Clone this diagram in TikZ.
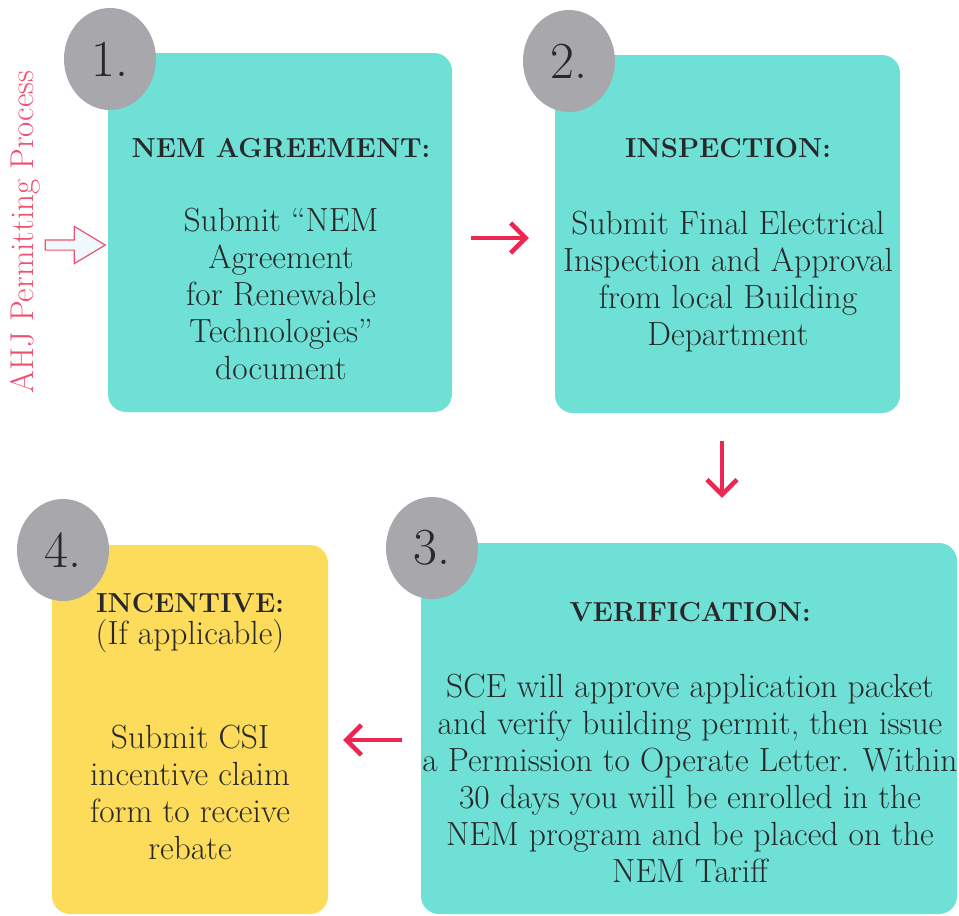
\documentclass[tikz,border=0pt]{standalone}
\usetikzlibrary{arrows.meta,shapes.geometric,shapes.arrows}
\definecolor{boxteal}{RGB}{110,224,214}
\definecolor{boxyellow}{RGB}{253,220,92}
\definecolor{numgray}{RGB}{168,168,172}
\definecolor{arrred}{RGB}{238,38,82}
\definecolor{sidered}{RGB}{240,80,110}
\definecolor{inkdark}{RGB}{40,40,40}
\tikzset{
  box/.style={rounded corners=18pt, inner sep=0pt},
  numc/.style={ellipse, fill=numgray, minimum width=92pt, minimum height=102pt, inner sep=0pt, text=inkdark, font=\fontsize{52}{52}\selectfont},
  head/.style={align=center, text=inkdark, font=\fontsize{27.5}{34}\bfseries\selectfont},
  body/.style={align=center, text=inkdark, font=\fontsize{33.5}{37}\selectfont},
  flow/.style={draw=arrred, line width=4.5pt, -{Straight Barb[length=15pt,width=30pt]}}
}
\begin{document}
\begin{tikzpicture}[x=1pt,y=-1pt]
    \useasboundingbox (0,0) rectangle (959,916);

    \node[box, fill=boxteal, minimum width=344pt, minimum height=359pt] (b1) at (280,232.5) {};
    \node[box, fill=boxteal, minimum width=345pt, minimum height=358pt] (b2) at (727.5,234) {};
    \node[box, fill=boxteal, minimum width=536pt, minimum height=371pt] (b3) at (689,728.5) {};
    \node[box, fill=boxyellow, minimum width=276pt, minimum height=369pt] (b4) at (190,729.5) {};

    \node[numc] (n1) at (110,59) {1.};
    \node[numc] (n2) at (569,61) {2.};
    \node[numc] (n3) at (432,548) {3.};
    \node[numc] (n4) at (63,550) {4.};

    \node[head] (h1) at (281,148) {NEM AGREEMENT:};
    \node[body] (t1) at (281,294) {Submit ``NEM\\Agreement\\for Renewable\\Technologies''\\document};

    \node[head] (h2) at (728,148) {INSPECTION:};
    \node[body] (t2) at (728,282) {Submit Final Electrical\\Inspection and Approval\\from local Building\\Department};

    \node[head] (h3) at (690,612) {VERIFICATION:};
    \node[body] (t3) at (690,778) {SCE will approve application packet\\and verify building permit, then issue\\a Permission to Operate Letter. Within\\30 days you will be enrolled in the\\NEM program and be placed on the\\NEM Tariff};

    \node[head] (h4) at (190,603) {INCENTIVE:};
    \node[body] (s4) at (190,636) {(If applicable)};
    \node[body] (t4) at (190,792) {Submit CSI\\incentive claim\\form to receive\\rebate};

    \node[rotate=90, text=sidered, font=\fontsize{33}{33}\selectfont] (ahj) at (25,232) {AHJ Permitting Process};
    \node[single arrow, draw=sidered, fill=cyan!6, line width=1.2pt, inner sep=4.5pt,
          minimum height=60pt, single arrow head extend=13.5pt, single arrow tip angle=62] (in) at (71,245) {};

    \draw[flow, shorten <=19pt, shorten >=26pt] ([yshift=-5.5pt]b1.east) -- ([yshift=-4pt]b2.west);
    \draw[flow, shorten <=28pt, shorten >=45pt] ([xshift=-5.5pt]b2.south) -- ([xshift=-5.5pt]b2.south |- b3.north);
    \draw[flow, shorten <=19pt, shorten >=15pt] ([yshift=-11.5pt]b3.west) -- ([yshift=-10.5pt]b4.east);
\end{tikzpicture}
\end{document}
